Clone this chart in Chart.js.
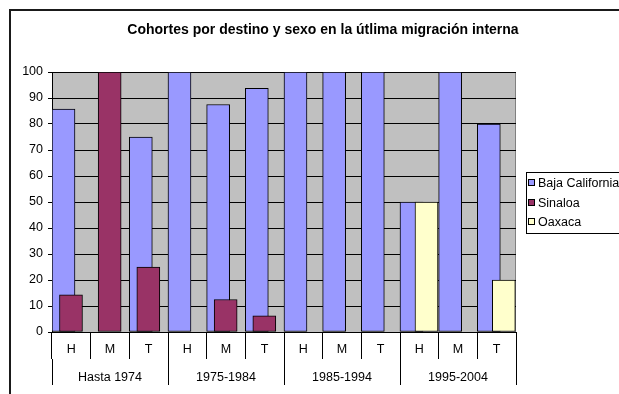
<!DOCTYPE html>
<html>
<head>
<meta charset="utf-8">
<script src="https://cdn.jsdelivr.net/npm/chart.js@4.4.1/dist/chart.umd.min.js"></script>
<style>
  html, body { margin: 0; padding: 0; background: #fff; overflow: hidden; }
  #wrap { width: 619px; height: 394px; overflow: hidden; position: relative; }
  canvas { display: block; }
</style>
</head>
<body>
<div id="wrap"><canvas id="chart" width="646" height="394"></canvas></div>
<script>
// Cohort periods and sex (H = hombres, M = mujeres, T = total)
const periods = ['Hasta 1974', '1975-1984', '1985-1994', '1995-2004'];
const sexes = ['H', 'M', 'T'];

// Share (%) of the last internal migration going to each destination
const bajaCalifornia = [85.7, 0, 75, 100, 87.5, 93.75, 100, 100, 100, 50, 100, 80];
const sinaloa        = [14.3, 100, 25, 0, 12.5, 6.25, 0, 0, 0, 0, 0, 0];
const oaxaca         = [0, 0, 0, 0, 0, 0, 0, 0, 0, 50, 0, 20];

const yTicks = [0, 10, 20, 30, 40, 50, 60, 70, 80, 90, 100];

const FONT = 'Liberation Sans, Arial, sans-serif';
Chart.defaults.font.family = FONT;
Chart.defaults.font.size = 12.5;
Chart.defaults.color = '#000';

const categories = periods.flatMap(() => sexes);

// Overlapping bars: each series sits a bit further right inside its category
function series(values, slot) {
  return values.map((v, i) => ({ x: i + slot, y: v === 0 ? null : v }));
}

const plotBackground = {
  id: 'plotBackground',
  beforeDraw(chart) {
    const { ctx, chartArea: a } = chart;
    ctx.save();
    ctx.fillStyle = '#fff';
    ctx.fillRect(0, 0, chart.width, chart.height);
    ctx.lineWidth = 2;
    ctx.strokeStyle = '#1a1a1a';
    ctx.strokeRect(10, 10, chart.width + 100, chart.height + 100);
    ctx.fillStyle = '#C0C0C0';
    ctx.fillRect(a.left, a.top, a.right - a.left, a.bottom - a.top);
    ctx.lineWidth = 1;
    ctx.strokeStyle = '#808080';
    ctx.strokeRect(a.left + 0.5, a.top + 0.5, a.right - a.left - 1, a.bottom - a.top);
    ctx.restore();
  }
};

const boxedLegend = {
  id: 'boxedLegend',
  afterDraw(chart) {
    const { ctx, chartArea: a } = chart;
    const sets = chart.data.datasets;
    const left = a.right + 10;
    const top = 172;
    const rowH = 19.5;
    ctx.save();
    ctx.lineWidth = 1;
    ctx.strokeStyle = '#000';
    ctx.fillStyle = '#fff';
    ctx.fillRect(left, top, 140, 61);
    ctx.strokeRect(left + 0.5, top + 0.5, 140, 61);
    ctx.font = '12.5px ' + FONT;
    ctx.textBaseline = 'middle';
    sets.forEach((ds, i) => {
      const cy = Math.round(top + 11 + i * rowH);
      ctx.fillStyle = ds.backgroundColor;
      ctx.fillRect(left + 2.5, cy - 3.5, 6, 6);
      ctx.strokeStyle = '#000';
      ctx.strokeRect(left + 2.5, cy - 3.5, 6, 6);
      ctx.fillStyle = '#000';
      ctx.fillText(ds.label, left + 12, cy + 0.5);
    });
    ctx.restore();
  }
};

const barCommon = {
  xAxisID: 'xb',
  yAxisID: 'y',
  grouped: false,
  barThickness: 23,
  borderWidth: 1,
  borderColor: '#000',
  borderSkipped: false
};

new Chart(document.getElementById('chart'), {
  type: 'bar',
  data: {
    datasets: [
      { ...barCommon, label: 'Baja California', data: series(bajaCalifornia, 0.297), backgroundColor: '#9999FF', order: 3 },
      { ...barCommon, label: 'Sinaloa', data: series(sinaloa, 0.491), backgroundColor: '#993366', order: 2 },
      { ...barCommon, label: 'Oaxaca', data: series(oaxaca, 0.685), backgroundColor: '#FFFFCC', order: 1 }
    ]
  },
  options: {
    responsive: false,
    animation: false,
    layout: { padding: { top: 0, left: 0, right: 0, bottom: 9 } },
    plugins: {
      legend: { display: false },
      tooltip: { enabled: false },
      title: {
        display: true,
        text: 'Cohortes por destino y sexo en la útlima migración interna',
        color: '#000',
        font: { family: FONT, size: 14, weight: 'bold' },
        padding: { top: 21.6, bottom: 33.6 }
      }
    },
    scales: {
      x: {
        type: 'category',
        labels: categories,
        position: 'bottom',
        weight: 1,
        offset: true,
        grid: { offset: true, drawOnChartArea: false, color: '#000', tickLength: 27 },
        border: { display: true, color: '#000' },
        ticks: { padding: -16.5, autoSkip: false, maxRotation: 0, color: '#000' },
        afterFit: s => { s.height = 27; }
      },
      x2: {
        type: 'category',
        labels: periods,
        position: 'bottom',
        weight: 2,
        offset: true,
        grid: { offset: true, drawOnChartArea: false, color: '#000', tickLength: 26 },
        border: { display: false },
        ticks: { padding: -14.5, autoSkip: false, maxRotation: 0, color: '#000' },
        afterFit: s => { s.height = 26; }
      },
      xb: {
        type: 'linear',
        min: 0,
        max: categories.length,
        offset: false,
        display: false
      },
      y: {
        type: 'linear',
        position: 'left',
        min: yTicks[0],
        max: yTicks[yTicks.length - 1],
        afterBuildTicks: s => { s.ticks = yTicks.map(v => ({ value: v })); },
        grid: { color: '#000', tickLength: 4 },
        border: { display: true, color: '#000' },
        ticks: { padding: 5, color: '#000' },
        afterFit: s => { s.width = 52; }
      },
      legendSpace: {
        type: 'linear',
        position: 'right',
        display: true,
        grid: { display: false },
        border: { display: false },
        ticks: { display: false },
        afterFit: s => { s.width = 130; }
      }
    }
  },
  plugins: [plotBackground, boxedLegend]
});
</script>
</body>
</html>
